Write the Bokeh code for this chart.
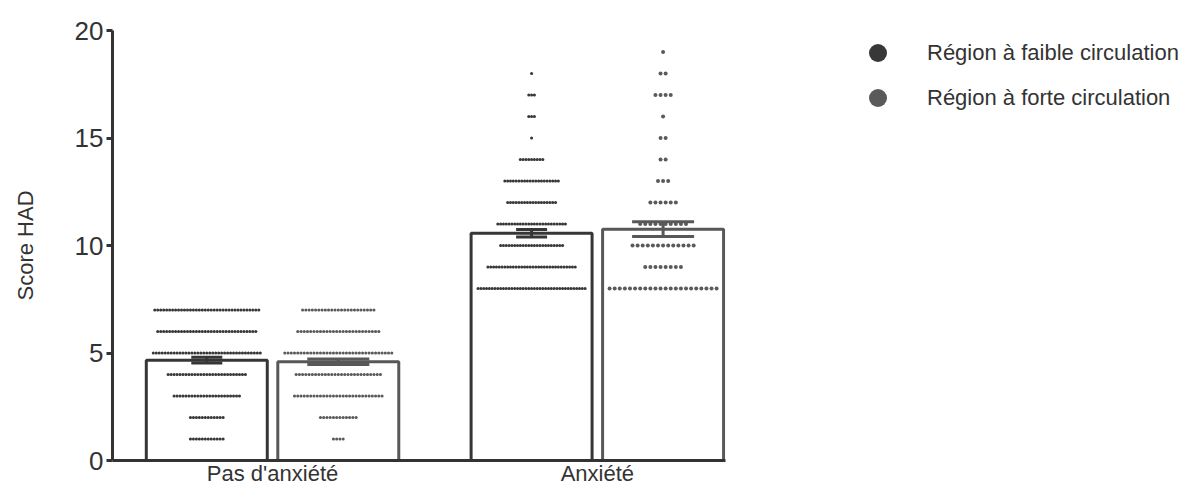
import numpy as np
from bokeh.plotting import figure
from bokeh.models import (Range1d, FixedTicker, Legend, LegendItem,
                          ColumnDataSource, Whisker, TeeHead)
from bokeh.embed import file_html
from bokeh.resources import INLINE

# ---------------- data ----------------
groups = ["Pas d'anxiété", "Anxiété"]
series = ["Région à faible circulation", "Région à forte circulation"]

scores_pas = [0, 1, 2, 3, 4, 5, 6, 7]
counts_pas_faible = [2, 12, 12, 23, 27, 37, 34, 36]
counts_pas_forte = [0, 4, 12, 28, 27, 34, 26, 23]

scores_anx = [8, 9, 10, 11, 12, 13, 14, 15, 16, 17, 18, 19]
counts_anx_faible = [39, 32, 23, 25, 18, 20, 9, 1, 3, 3, 1, 0]
counts_anx_forte = [22, 8, 13, 10, 6, 3, 2, 2, 1, 4, 2, 1]

y_ticks = [0, 5, 10, 15, 20]

# ---------------- layout constants ----------------
UNIT = 131.5           # px per x unit
FRAME_W, FRAME_H = 613, 430
BORDER_L, BORDER_T = 112, 30
X0 = -0.717
X1 = X0 + FRAME_W / UNIT
GROUP_POS = [0.0, 2.47]
PAIR_OFF = [0.0, 1.0]
BAR_W = 0.92
ROW_W_PX = 107.0

col_dot = ["#383838", "#5a5a5a"]
col_bar = ["#363636", "#585858"]
dot_size = [3.1, 3.1, 3.1, 4.0]
cap_px = [31, 62]
FONT = "Liberation Sans"
TXT = "#333333"

p = figure(frame_width=FRAME_W, frame_height=FRAME_H,
           min_border_left=BORDER_L, min_border_top=BORDER_T,
           min_border_right=1180 - BORDER_L - FRAME_W,
           min_border_bottom=484 - BORDER_T - FRAME_H,
           x_range=Range1d(X0, X1), y_range=Range1d(0, 20),
           output_backend="svg", toolbar_location=None)
p.outline_line_color = None
p.grid.visible = False
p.background_fill_color = "white"

data = [
    (scores_pas, counts_pas_faible),
    (scores_pas, counts_pas_forte),
    (scores_anx, counts_anx_faible),
    (scores_anx, counts_anx_forte),
]

dot_renderers = {}
whisk = {0: dict(x=[], upper=[], lower=[]), 1: dict(x=[], upper=[], lower=[])}
bars = dict(x=[], top=[], color=[])
k = 0
for gi, gpos in enumerate(GROUP_POS):
    for si in range(2):
        scores, counts = data[k]
        cx = gpos + PAIR_OFF[si]
        vals = np.repeat(scores, counts).astype(float)
        mean = vals.mean()
        sem = vals.std(ddof=1) / np.sqrt(len(vals))
        bars["x"].append(cx); bars["top"].append(mean); bars["color"].append(col_bar[si])
        whisk[si]["x"].append(cx)
        whisk[si]["upper"].append(mean + sem)
        whisk[si]["lower"].append(mean - sem)
        k += 1

p.vbar(x="x", top="top", bottom=0, width=BAR_W, source=ColumnDataSource(bars),
       fill_color="white", line_color="color", line_width=3)

k = 0
for gi, gpos in enumerate(GROUP_POS):
    for si in range(2):
        scores, counts = data[k]
        cx = gpos + PAIR_OFF[si]
        s = ROW_W_PX / (max(counts) - 1) / UNIT
        xs, ys = [], []
        for sc, n in zip(scores, counts):
            for i in range(n):
                xs.append(cx + (i - (n - 1) / 2) * s)
                ys.append(sc)
        r = p.scatter(xs, ys, size=dot_size[k], fill_color=col_dot[si],
                      line_color=None)
        dot_renderers.setdefault(si, r)
        k += 1

for si in range(2):
    src = ColumnDataSource(whisk[si])
    w = Whisker(source=src, base="x", upper="upper", lower="lower",
                line_color=col_bar[si], line_width=3, level="annotation",
                upper_head=TeeHead(size=cap_px[si], line_width=3, line_color=col_bar[si]),
                lower_head=TeeHead(size=cap_px[si], line_width=3, line_color=col_bar[si]))
    p.add_layout(w)

# axes
for ax in (p.xaxis[0], p.yaxis[0]):
    ax.axis_line_width = 3
    ax.axis_line_color = TXT
    ax.major_label_text_font = FONT
    ax.major_label_text_color = TXT
    ax.minor_tick_line_color = None

p.yaxis.ticker = FixedTicker(ticks=y_ticks)
p.yaxis.major_tick_out = 6
p.yaxis.major_tick_in = 0
p.yaxis.major_tick_line_width = 3
p.yaxis.major_tick_line_color = TXT
p.yaxis.major_label_text_font_size = "26px"
p.yaxis.major_label_standoff = 3
p.yaxis.axis_label = "Score HAD"
p.yaxis.axis_label_text_font = FONT
p.yaxis.axis_label_text_font_size = "22px"
p.yaxis.axis_label_text_font_style = "normal"
p.yaxis.axis_label_text_color = TXT
p.yaxis.axis_label_standoff = 34

centers = [round(g + 0.5, 3) for g in GROUP_POS]
p.xaxis.ticker = FixedTicker(ticks=centers)
p.xaxis.major_label_overrides = {c: g for c, g in zip(centers, groups)}
p.xaxis.major_tick_line_color = None
p.xaxis.major_tick_out = 0
p.xaxis.major_tick_in = 0
p.xaxis.major_label_standoff = 0
p.xaxis.major_label_text_font_size = "22px"

legend = Legend(items=[LegendItem(label=series[si], renderers=[dot_renderers[si]])
                       for si in range(2)],
                location=(125, 340), glyph_width=55, glyph_height=45, spacing=0,
                label_standoff=22, padding=0, margin=0,
                border_line_color=None, background_fill_alpha=0,
                label_text_font=FONT, label_text_font_size="22px",
                label_text_color=TXT)
p.add_layout(legend, "right")

html = file_html(p, INLINE)
html = html.replace("<head>", "<head><style>html,body{overflow:hidden}</style>", 1)
open("out.html", "w").write(html)
